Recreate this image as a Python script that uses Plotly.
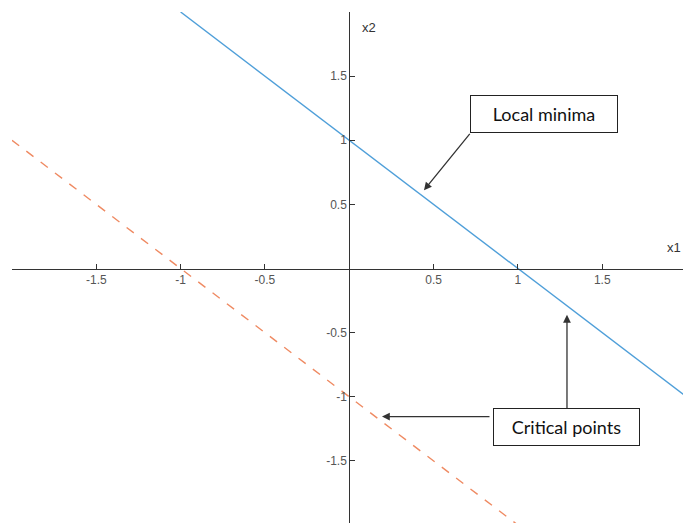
import plotly.graph_objects as go

# data
minima_x = [-1.0, 2.0]
minima_y = [2.0, -1.0]
critical_x = [-2.0, 1.0]
critical_y = [1.0, -2.0]

x_tickvals = [-2, -1.5, -1, -0.5, 0.5, 1, 1.5]
x_ticktext = ["", "-1.5", "-1", "-0.5", "0.5", "1", "1.5"]
y_tickvals = [-1.5, -1, -0.5, 0.5, 1, 1.5, 2]
y_ticktext = ["-1.5", "-1", "-0.5", "0.5", "1", "1.5", ""]

xmin, xmax = -2.0, 1.979
ymin, ymax = -1.984, 2.0

fig = go.Figure()
fig.add_trace(go.Scatter(x=minima_x, y=minima_y, mode="lines",
                         line=dict(color="#4f9fd9", width=1.4), showlegend=False))
fig.add_trace(go.Scatter(x=critical_x, y=critical_y, mode="lines",
                         line=dict(color="#ef8a62", width=1.4, dash="dash"), showlegend=False))

tickfont = dict(family="Liberation Sans, Arial", size=12, color="#555555")
fig.update_layout(
    width=683, height=523,
    margin=dict(l=12, r=0, t=12, b=0, autoexpand=False),
    plot_bgcolor="white", paper_bgcolor="white",
    xaxis=dict(range=[xmin, xmax], showgrid=False, zeroline=False, showline=True,
               linecolor="#333333", linewidth=1, anchor="free", automargin=False,
               position=(0 - ymin) / (ymax - ymin),
               ticks="inside", ticklen=5, tickcolor="#333333",
               tickvals=x_tickvals, ticktext=x_ticktext, tickfont=tickfont),
    yaxis=dict(range=[ymin, ymax], showgrid=False, zeroline=False, showline=True,
               linecolor="#333333", linewidth=1, anchor="free", automargin=False,
               position=(0 - xmin) / (xmax - xmin),
               ticks="inside", ticklen=5, tickcolor="#333333",
               tickvals=y_tickvals, ticktext=y_ticktext, tickfont=tickfont),
)

axfont = dict(family="Liberation Sans, Arial", size=13, color="#333333")
fig.add_annotation(x=1.926, y=0.167, text="x1", showarrow=False, font=axfont)
fig.add_annotation(x=0.117, y=1.876, text="x2", showarrow=False, font=axfont)

boxfont = dict(family="Lato, Open Sans", size=18, color="#111111")
fig.add_annotation(x=1.155, y=1.208, text="Local minima", showarrow=False, font=boxfont,
                   bordercolor="#222222", borderwidth=1, borderpad=6, bgcolor="white",
                   width=134, height=24)
fig.add_annotation(x=1.291, y=-1.239, text="Critical points", showarrow=False, font=boxfont,
                   bordercolor="#222222", borderwidth=1, borderpad=6, bgcolor="white",
                   width=133, height=24)

arrow = dict(showarrow=True, arrowhead=2, arrowsize=1.2, arrowwidth=1.3,
             arrowcolor="#333333", text="")
fig.add_annotation(x=0.443, y=0.61, ax=47, ay=-58, **arrow)
fig.add_annotation(x=1.291, y=-0.361, ax=0, ay=95, **arrow)
fig.add_annotation(x=0.194, y=-1.154, ax=109, ay=0, **arrow)

fig.write_html("out.html",
               config={"displayModeBar": False},
               post_script="document.body.style.margin='0';document.body.style.overflow='hidden';")
